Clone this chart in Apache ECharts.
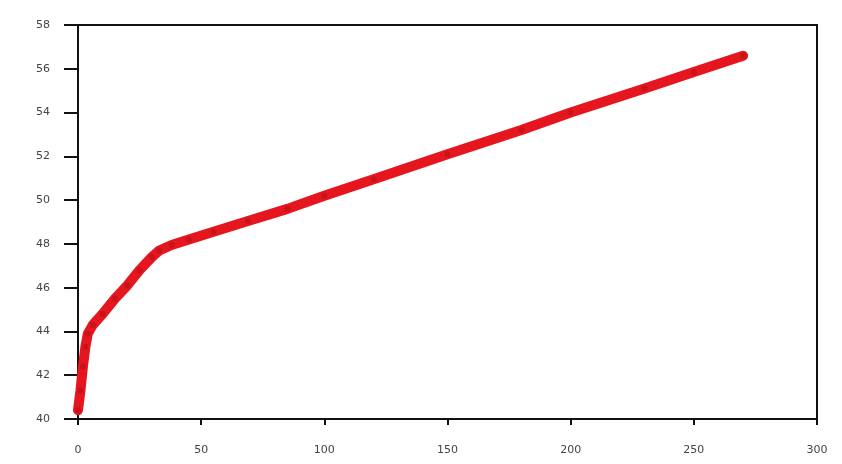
<!DOCTYPE html>
<html>
<head>
<meta charset="utf-8">
<script src="https://cdn.jsdelivr.net/npm/echarts@6/dist/echarts.min.js"></script>
<style>
  html, body { margin: 0; padding: 0; background: #fff; }
  #chart { width: 842px; height: 464px; }
</style>
</head>
<body>
<div id="chart"></div>
<script>
  // values
  var xValues = [0, 1, 2, 3, 4, 6, 10, 15, 20, 25, 30, 33, 38, 45, 55, 69, 85, 100, 120, 150, 180, 200, 230, 250, 270];
  var yValues = [40.4, 41.3, 42.4, 43.3, 43.9, 44.3, 44.8, 45.5, 46.1, 46.8, 47.4, 47.7, 47.95, 48.2, 48.55, 49.05, 49.6, 50.2, 50.95, 52.1, 53.2, 54.0, 55.1, 55.85, 56.6];
  var xTicks = [0, 50, 100, 150, 200, 250, 300];
  var yTicks = [40, 42, 44, 46, 48, 50, 52, 54, 56, 58];

  var chart = echarts.init(document.getElementById('chart'));
  chart.setOption({
    backgroundColor: '#ffffff',
    animation: false,
    grid: {
      left: 78,
      right: 25,
      top: 25,
      bottom: 45,
      show: true,
      borderColor: '#111',
      borderWidth: 2,
      backgroundColor: '#ffffff'
    },
    xAxis: {
      type: 'value',
      min: xTicks[0],
      max: xTicks[xTicks.length - 1],
      interval: 50,
      axisLine: { lineStyle: { color: '#111', width: 2 } },
      axisTick: { length: 6, lineStyle: { color: '#111', width: 2 } },
      splitLine: { show: false },
      axisLabel: {
        margin: 26,
        color: '#444',
        fontSize: 11,
        fontFamily: 'DejaVu Sans'
      }
    },
    yAxis: {
      type: 'value',
      min: yTicks[0],
      max: yTicks[yTicks.length - 1],
      interval: 2,
      axisLine: { lineStyle: { color: '#111', width: 2 } },
      axisTick: { length: 14, lineStyle: { color: '#111', width: 2 } },
      splitLine: { show: false },
      axisLabel: {
        margin: 28,
        color: '#444',
        fontSize: 11,
        fontFamily: 'DejaVu Sans'
      }
    },
    series: [{
      type: 'line',
      smooth: false,
      symbol: 'circle',
      symbolSize: 6,
      lineStyle: { color: '#e5161d', width: 10, cap: 'round', join: 'round' },
      itemStyle: { color: '#c8121c' },
      data: xValues.map(function (x, i) { return [x, yValues[i]]; })
    }]
  });
</script>
</body>
</html>
